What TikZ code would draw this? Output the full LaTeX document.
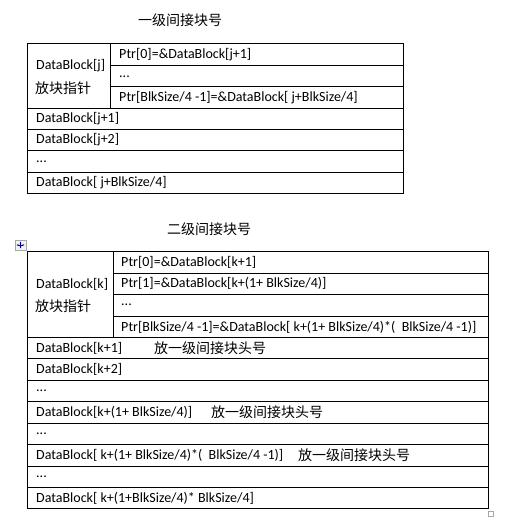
\documentclass[tikz,border=0pt]{standalone}
\usepackage{fontspec}
\setmainfont{Carlito}
\newfontfamily\cjk{Noto Sans CJK SC}
\usetikzlibrary{positioning, arrows.meta}

\begin{document}
\begin{tikzpicture}[x=1pt, y=-1pt, font=\fontsize{14}{16}\selectfont]
    \tikzset{grid/.style={line width=0.8pt, black},
             cell/.style={anchor=west, inner sep=0pt},
             zh/.style={cell, font=\fontsize{14}{16}\selectfont\cjk},
             title/.style={inner sep=0pt, font=\fontsize{14}{16}\selectfont\cjk}}
    \useasboundingbox (0,0) rectangle (513,529);

    % first-level table
    \node[title] (t1) at (180,20) {一级间接块号};
    \draw[grid] (27,43) rectangle (403,193);
    \draw[grid] (110,43) -- (110,108);
    \foreach \y in {65,86} \draw[grid] (110,\y) -- (403,\y);
    \foreach \y in {108,129,150,172} \draw[grid] (27,\y) -- (403,\y);
    \node[cell] (j0) at (36,66) {DataBlock[j]};
    \node[zh] (j0z) at (35,88) {放块指针};
    \node[cell] (p0) at (119,55) {Ptr[0]=\&DataBlock[j+1]};
    \node[cell] (p1) at (119,77) {...};
    \node[cell] (p2) at (119,98) {Ptr[BlkSize/4 -1]=\&DataBlock[ j+BlkSize/4]};
    \node[cell] (j1) at (36,119) {DataBlock[j+1]};
    \node[cell] (j2) at (36,140) {DataBlock[j+2]};
    \node[cell] (j3) at (36,162) {...};
    \node[cell] (j4) at (36,183) {DataBlock[ j+BlkSize/4]};

    % second-level table
    \node[title] (t2) at (209,229) {二级间接块号};
    \draw[grid] (27,251) rectangle (488,508);
    \draw[grid] (113,251) -- (113,337);
    \foreach \y in {273,294,316} \draw[grid] (113,\y) -- (488,\y);
    \foreach \y in {337,358,380,401,423,444,466,487} \draw[grid] (27,\y) -- (488,\y);
    \node[cell] (k0) at (36,284) {DataBlock[k]};
    \node[zh] (k0z) at (35,306) {放块指针};
    \node[cell] (q0) at (121,262) {Ptr[0]=\&DataBlock[k+1]};
    \node[cell] (q1) at (121,283) {Ptr[1]=\&DataBlock[k+(1+ BlkSize/4)]};
    \node[cell] (q2) at (121,305) {...};
    \node[cell] (q3) at (121,327) {Ptr[BlkSize/4 -1]=\&DataBlock[ k+(1+ BlkSize/4)*(\ \ BlkSize/4 -1)]};
    \node[cell] (k1) at (36,348) {DataBlock[k+1]};
    \node[zh] (k1z) at (154,348) {放一级间接块头号};
    \node[cell] (k2) at (36,369) {DataBlock[k+2]};
    \node[cell] (k3) at (36,391) {...};
    \node[cell] (k4) at (36,412) {DataBlock[k+(1+ BlkSize/4)]};
    \node[zh] (k4z) at (211,412) {放一级间接块头号};
    \node[cell] (k5) at (36,434) {...};
    \node[cell] (k6) at (36,455) {DataBlock[ k+(1+ BlkSize/4)*(\ \ BlkSize/4 -1)]};
    \node[zh] (k6z) at (298,455) {放一级间接块头号};
    \node[cell] (k7) at (36,477) {...};
    \node[cell] (k8) at (36,498) {DataBlock[ k+(1+BlkSize/4)*\ BlkSize/4]};

    % editor handles
    \draw[gray!70, fill=gray!10] (15,240) rectangle (26,250);
    \draw[blue!60!black, {Stealth[length=2pt]}-{Stealth[length=2pt]}, line width=0.5pt] (16.5,245) -- (24.5,245);
    \draw[blue!60!black, {Stealth[length=2pt]}-{Stealth[length=2pt]}, line width=0.5pt] (20.5,241.5) -- (20.5,248.5);
    \draw[gray!70, line width=0.6pt] (488,511) rectangle (493,516);
\end{tikzpicture}
\end{document}
